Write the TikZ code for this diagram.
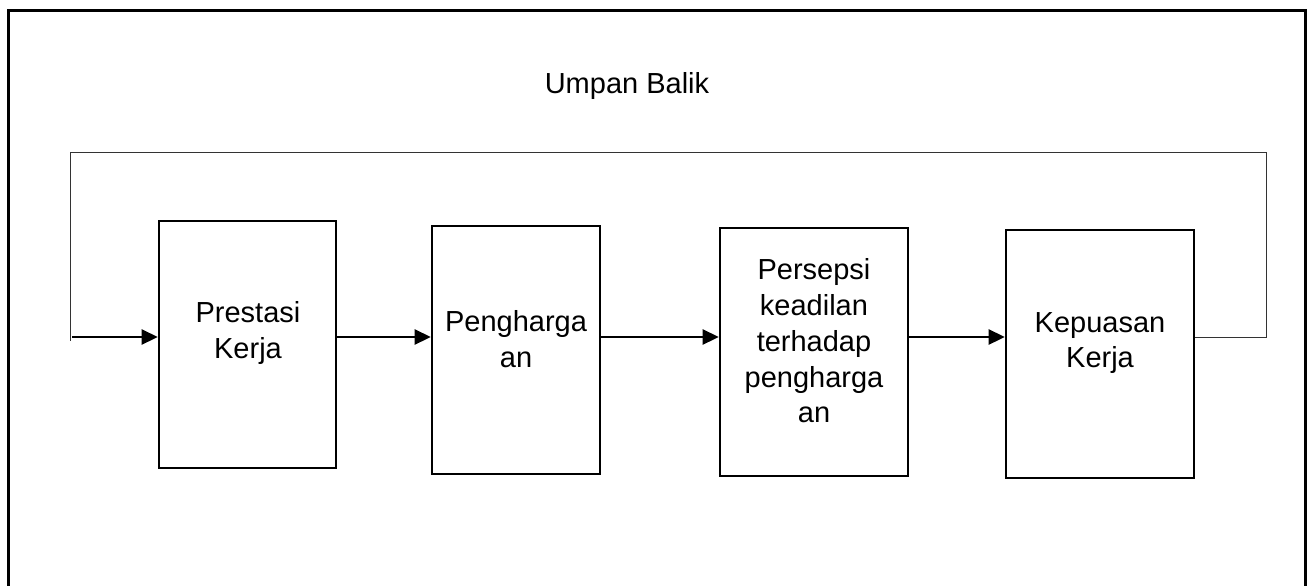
\documentclass[tikz,border=0pt]{standalone}
\usepackage{fontspec}
\setmainfont{Liberation Sans}
\usetikzlibrary{arrows.meta}
\begin{document}
\begin{tikzpicture}[x=1pt,y=-1pt,
  box/.style={draw,line width=2.6pt,rectangle,inner sep=0pt},
  lbl/.style={align=center,font=\fontsize{29}{35.8}\selectfont},
  conn/.style={line width=2.6pt,-{Triangle[length=16pt,width=15pt]}},
  fb/.style={line width=1pt,draw=black!80}]
\useasboundingbox (0,0) rectangle (1312,586);
% outer frame (bottom edge lies below the picture)
\draw[line width=3pt] (8,590) -- (8,11) -- (1305,11) -- (1305,590);
% title
\node[lbl] (title) at (627,86) {Umpan Balik};
% boxes
\node[box,minimum width=177pt,minimum height=247pt] (b1) at (247.5,344.5) {};
\node[box,minimum width=168pt,minimum height=248pt] (b2) at (516,350) {};
\node[box,minimum width=188pt,minimum height=248pt] (b3) at (814,352) {};
\node[box,minimum width=188pt,minimum height=248pt] (b4) at (1100,354) {};
% labels
\node[lbl] (t1) at (248,333) {Prestasi\\Kerja};
\node[lbl] (t2) at (516,339) {Pengharga\\an};
\node[lbl] (t3) at (814,341) {Persepsi\\keadilan\\terhadap\\pengharga\\an};
\node[lbl] (t4) at (1100,343) {Kepuasan\\Kerja};
% connectors
\coordinate (inL) at (72,337);
\draw[conn] (inL) -- (inL -| b1.west);
\draw[conn] (b1.east |- 0,337) -- (b2.west |- 0,337);
\draw[conn] (b2.east |- 0,337) -- (b3.west |- 0,337);
\draw[conn] (b3.east |- 0,337) -- (b4.west |- 0,337);
% feedback loop
\coordinate (fR) at (1266,337);
\coordinate (fRT) at (1266,152);
\coordinate (fLT) at (70,152);
\coordinate (fL) at (70,341);
\draw[fb] (b4.east |- fR) -- (fR) -- (fRT) -- (fLT) -- (fL);
\end{tikzpicture}
\end{document}
